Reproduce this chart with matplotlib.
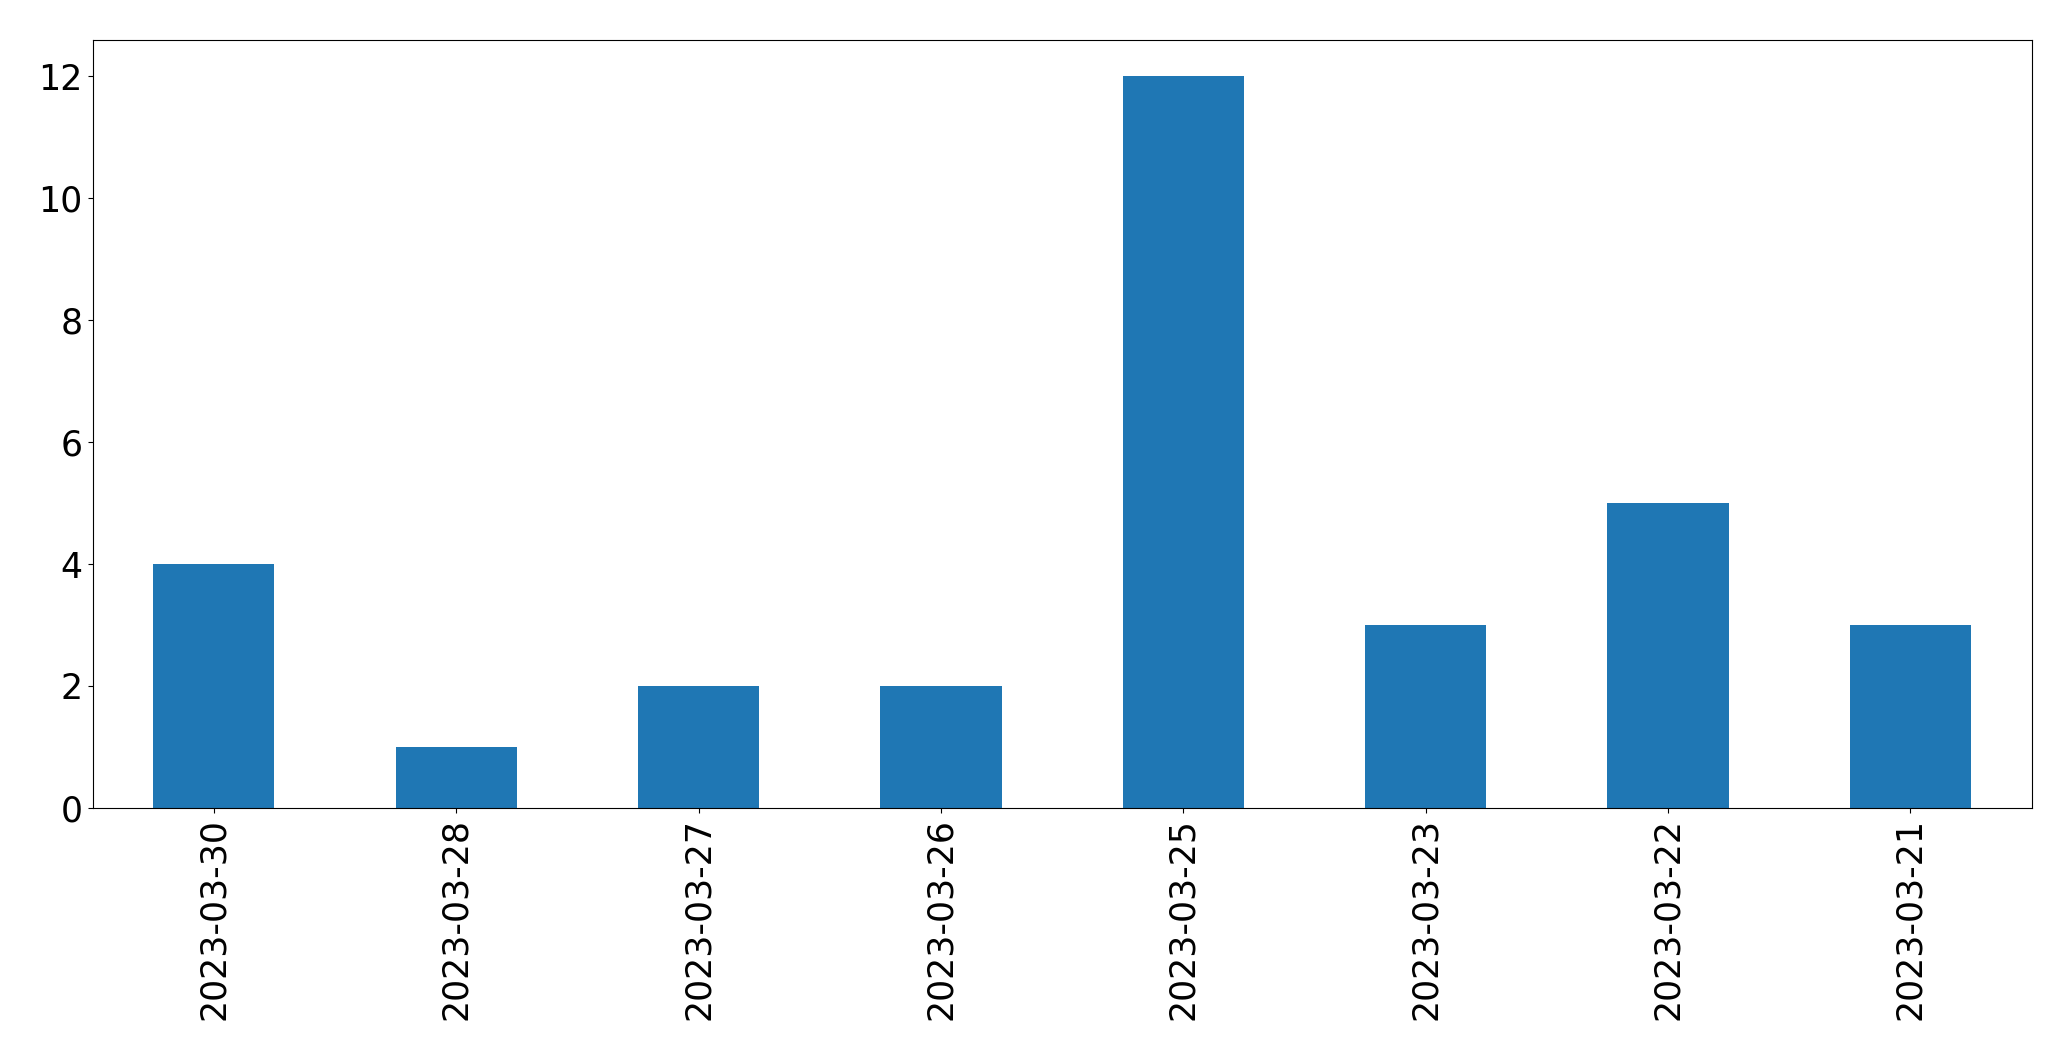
import matplotlib
matplotlib.use("Agg")
import matplotlib.pyplot as plt

dates = ["2023-03-30", "2023-03-28", "2023-03-27", "2023-03-26",
         "2023-03-25", "2023-03-23", "2023-03-22", "2023-03-21"]
counts = [4, 1, 2, 2, 12, 3, 5, 3]

fig = plt.figure(figsize=(20.71, 10.61), dpi=100)
ax = fig.add_axes([0.0447, 0.2385, 0.9363, 0.7242])

x = range(len(dates))
ax.bar(x, counts, width=0.5, color="#1f77b4")
ax.set_xlim(-0.5, len(dates) - 0.5)
ax.set_ylim(0, 12.6)
ax.set_xticks(list(x))
ax.set_xticklabels(dates, rotation=90)
ax.tick_params(axis="both", labelsize=25)

fig.savefig("out.png", dpi=100)
